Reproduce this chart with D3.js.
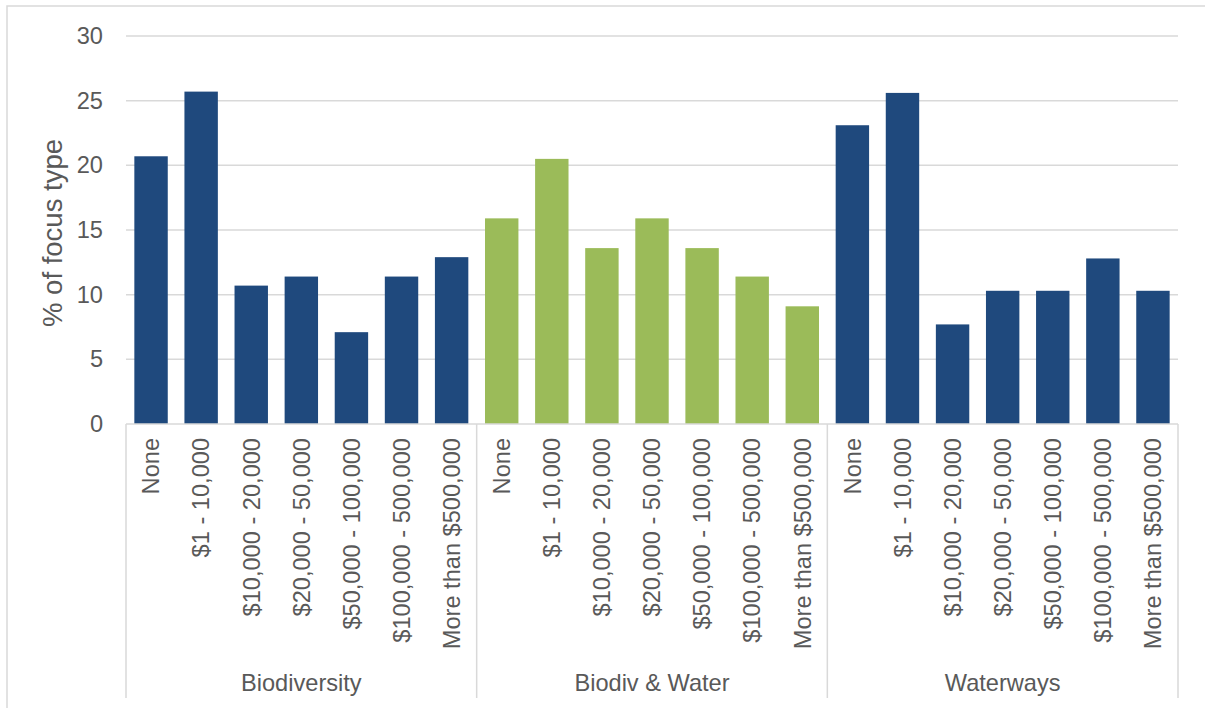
<!DOCTYPE html>
<html>
<head>
<meta charset="utf-8">
<script src="https://cdn.jsdelivr.net/npm/d3@7"></script>
<style>
  html, body { margin: 0; padding: 0; background: #fff; }
  svg { display: block; font-family: "Liberation Sans", Arial, sans-serif; }
</style>
</head>
<body>
<svg id="chart" width="1205" height="708"></svg>
<script>
const groups = ["Biodiversity", "Biodiv & Water", "Waterways"];
const categories = ["None", "$1 - 10,000", "$10,000 - 20,000", "$20,000 - 50,000",
  "$50,000 - 100,000", "$100,000 - 500,000", "More than $500,000"];
const biodiversity = [20.7, 25.7, 10.7, 11.4, 7.1, 11.4, 12.9];
const biodivWater = [15.9, 20.5, 13.6, 15.9, 13.6, 11.4, 9.1];
const waterways = [23.1, 25.6, 7.7, 10.3, 10.3, 12.8, 10.3];
const yTicks = [0, 5, 10, 15, 20, 25, 30];
const groupColors = ["#1F497D", "#9BBB59", "#1F497D"];

const seriesByGroup = [biodiversity, biodivWater, waterways];
const rows = [];
groups.forEach((g, gi) => {
  categories.forEach((c, ci) => {
    rows.push({ key: gi + "|" + ci, group: g, gi, cat: c, value: seriesByGroup[gi][ci] });
  });
});

const svg = d3.select("#chart");
const pLeft = 126, pRight = 1178, pTop = 36, pBottom = 424;
const fs = "23.6px";

// outer border
svg.append("rect").attr("x", 7).attr("y", 6).attr("width", 1205).attr("height", 720)
  .attr("fill", "none").attr("stroke", "#D9D9D9").attr("stroke-width", 1.5);

const x = d3.scaleBand().domain(rows.map(d => d.key)).range([pLeft, pRight])
  .paddingInner(0.333).paddingOuter(0.1665);
const y = d3.scaleLinear().domain([0, 30]).range([pBottom, pTop]);

// gridlines
svg.append("g").selectAll("line").data(yTicks.filter(t => t > 0)).join("line")
  .attr("x1", pLeft).attr("x2", pRight)
  .attr("y1", d => y(d)).attr("y2", d => y(d))
  .attr("stroke", "#D9D9D9").attr("stroke-width", 1.5);

// y axis labels
const yAxis = d3.axisLeft(y).tickValues(yTicks).tickSize(0).tickPadding(23);
const ya = svg.append("g").attr("transform", `translate(${pLeft},0)`).call(yAxis);
ya.select(".domain").remove();
ya.selectAll("text").attr("fill", "#595959").style("font-size", fs)
  .style("font-family", "Liberation Sans, Arial, sans-serif");

// bars
svg.append("g").selectAll("rect").data(rows).join("rect")
  .attr("x", d => x(d.key)).attr("width", x.bandwidth())
  .attr("y", d => y(d.value)).attr("height", d => y(0) - y(d.value))
  .attr("fill", d => groupColors[d.gi]);

// x axis baseline
svg.append("line").attr("x1", pLeft).attr("x2", pRight).attr("y1", pBottom).attr("y2", pBottom)
  .attr("stroke", "#D9D9D9").attr("stroke-width", 1.5);

// group separators
const step = x.step();
const groupEdges = groups.map((g, gi) => x(gi + "|0") - (step - x.bandwidth()) / 2);
groupEdges.push(pRight);
svg.append("g").selectAll("line").data(groupEdges).join("line")
  .attr("x1", d => d).attr("x2", d => d).attr("y1", pBottom).attr("y2", 698)
  .attr("stroke", "#D9D9D9").attr("stroke-width", 1.5);

// category labels
svg.append("g").selectAll("text").data(rows).join("text")
  .attr("transform", d => `translate(${x(d.key) + x.bandwidth() / 2},438) rotate(-90)`)
  .attr("text-anchor", "end").attr("dy", "0.35em")
  .attr("fill", "#595959").style("font-size", fs)
  .text(d => d.cat);

// group labels
svg.append("g").selectAll("text").data(groups).join("text")
  .attr("x", (d, i) => (groupEdges[i] + groupEdges[i + 1]) / 2)
  .attr("y", 683).attr("dy", "0.35em").attr("text-anchor", "middle")
  .attr("fill", "#595959").style("font-size", fs)
  .text(d => d);

// y title
svg.append("text")
  .attr("transform", `translate(62,233) rotate(-90)`)
  .attr("text-anchor", "middle")
  .attr("fill", "#595959").style("font-size", "27.5px")
  .text("% of focus type");
</script>
</body>
</html>
